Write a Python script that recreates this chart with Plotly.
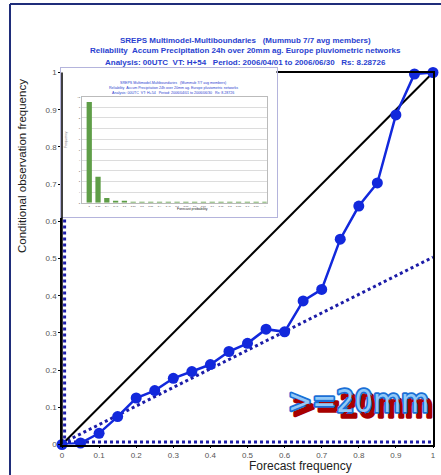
import plotly.graph_objects as go

W, H = 441, 475

# ---- data ----
forecast_prob = [0, 0.05, 0.1, 0.15, 0.2, 0.25, 0.3, 0.35, 0.4, 0.45, 0.5,
                 0.55, 0.6, 0.65, 0.7, 0.75, 0.8, 0.85, 0.9, 0.95, 1.0]
obs_freq = [0, 0.004, 0.03, 0.075, 0.125, 0.145, 0.178, 0.196, 0.215, 0.25, 0.272,
            0.31, 0.303, 0.386, 0.417, 0.552, 0.641, 0.703, 0.886, 0.996, 1.0]
climatology = 0.007
diag_x = [0, 1]
diag_y = [0, 1]
noskill_x = [0, 1]
noskill_y = [climatology / 2, (1 + climatology) / 2]
clim_h_x = [0, 1]
clim_h_y = [climatology, climatology]
clim_v_x = [climatology, climatology]
clim_v_y = [0, 1]
tick_vals = [0, 0.1, 0.2, 0.3, 0.4, 0.5, 0.6, 0.7, 0.8, 0.9, 1]
tick_text = ["0", "0.1", "0.2", "0.3", "0.4", "0.5", "0.6", "0.7", "0.8", "0.9", "1"]

# inset histogram (forecast probability frequency)
hist_cats = list(range(21))
hist_labels = ["0", "0.05", "0.1", "0.15", "0.2", "0.25", "0.3", "0.35", "0.4", "0.45", "0.5",
               "0.55", "0.6", "0.65", "0.7", "0.75", "0.8", "0.85", "0.9", "0.95", "1"]
hist_vals = [9.5, 2.45, 0.45, 0.17, 0.1, 0.06, 0.05, 0.04, 0.04, 0.03, 0.03,
             0.03, 0.02, 0.02, 0.02, 0.02, 0.02, 0.02, 0.02, 0.02, 0.02]

title_lines = [
    "SREPS Multimodel-Multiboundaries   (Mummub 7/7 avg members)",
    "Reliability  Accum Precipitation 24h over 20mm ag. Europe pluviometric networks",
    "Analysis: 00UTC  VT: H+54   Period: 2006/04/01 to 2006/06/30   Rs: 8.28726",
]
logo_text = ">=20mm"


def px(x):
    return x / W


def py(y):
    return 1 - y / H


fig = go.Figure()

DOT = "#1c1ca8"
fig.add_trace(go.Scatter(x=clim_h_x, y=clim_h_y, mode="lines",
                         line=dict(color=DOT, width=3, dash="dot"), cliponaxis=False))
fig.add_trace(go.Scatter(x=clim_v_x, y=clim_v_y, mode="lines",
                         line=dict(color=DOT, width=3, dash="dot"), cliponaxis=False))
fig.add_trace(go.Scatter(x=noskill_x, y=noskill_y, mode="lines",
                         line=dict(color=DOT, width=3, dash="dot"), cliponaxis=False))
fig.add_trace(go.Scatter(x=diag_x, y=diag_y, mode="lines",
                         line=dict(color="black", width=2), cliponaxis=False))
fig.add_trace(go.Scatter(x=forecast_prob, y=obs_freq, mode="lines+markers",
                         line=dict(color="#1228dc", width=2.5),
                         marker=dict(color="#1228dc", size=11), cliponaxis=False))

# inset frame (empty subplot covering the main plot)
fig.add_trace(go.Scatter(x=[], y=[], xaxis="x2", yaxis="y2"))
# inset histogram
fig.add_trace(go.Bar(x=hist_cats, y=hist_vals, xaxis="x3", yaxis="y3",
                     marker=dict(color="#5f9e48", line=dict(width=0)), width=0.6))

main_x = [px(62), px(433)]
main_y = [py(444.5), py(72.5)]

TICKFONT = dict(family="Liberation Sans, Arial, sans-serif", size=8, color="#555555")

fig.update_layout(
    width=W, height=H,
    margin=dict(l=0, r=0, t=0, b=0, autoexpand=False),
    paper_bgcolor="white", plot_bgcolor="white",
    showlegend=False,
    xaxis=dict(domain=main_x, range=[0, 1], tickvals=tick_vals, ticktext=tick_text,
               showgrid=False, zeroline=False, showline=True, linecolor="black",
               linewidth=1.5, mirror=True, ticks="outside", ticklen=2,
               tickcolor="black", tickfont=TICKFONT, anchor="y", automargin=False),
    yaxis=dict(domain=main_y, range=[0, 1], tickvals=tick_vals, ticktext=tick_text,
               showgrid=False, zeroline=False, showline=True, linecolor="black",
               linewidth=1.5, mirror=True, ticks="outside", ticklen=2,
               tickcolor="black", tickfont=TICKFONT, anchor="x", automargin=False),
    xaxis2=dict(domain=[px(61), px(276.5)], range=[0, 1], showgrid=False, zeroline=False,
                showticklabels=False, showline=True, linecolor="#b4b4dc", linewidth=1,
                mirror=True, anchor="y2", fixedrange=True, automargin=False),
    yaxis2=dict(domain=[py(217), py(67.7)], range=[0, 1], showgrid=False, zeroline=False,
                showticklabels=False, showline=True, linecolor="#b4b4dc", linewidth=1,
                mirror=True, anchor="x2", fixedrange=True, automargin=False),
    xaxis3=dict(domain=[px(81.7), px(266.7)], range=[-0.86, 20.2], tickvals=hist_cats,
                ticktext=hist_labels, tickfont=dict(size=2.5, color="#444"),
                showgrid=False, zeroline=False, showline=True, linecolor="#bbbbbb",
                linewidth=1, mirror=True, ticks="", anchor="y3", automargin=False),
    yaxis3=dict(domain=[py(202.7), py(96.7)], range=[0, 10], dtick=1,
                tickfont=dict(size=2.5, color="#444"), showgrid=True, gridcolor="#dcdcdc",
                gridwidth=0.6, zeroline=False, showline=True, linecolor="#bbbbbb",
                linewidth=1, mirror=True, ticks="", anchor="x3", automargin=False),
)

ann = []
TF = "Liberation Sans, Arial, sans-serif"


def note(text, x, y, size, color, angle=0, family=TF):
    return dict(text=text, x=px(x), y=py(y), xref="paper", yref="paper",
                showarrow=False, xanchor="center", yanchor="middle", textangle=angle,
                font=dict(family=family, size=size, color=color))


# main title
for i, t in enumerate(title_lines):
    ann.append(note("<b>" + t + "</b>", 246, 40 + 11 * i, 8, "#2a3fd0"))
# inset title
for i, t in enumerate(title_lines):
    ann.append(note(t, 173, 83 + 5 * i, 3.6, "#2a3fd0"))
ann.append(note("Frequency", 66, 140, 3.5, "#777777", angle=-90))
ann.append(note("Forecast probability", 192, 208.5, 3.5, "#222222"))
# axis titles
ann.append(note("Conditional observation frequency", 22, 166, 11.5, "#222222", angle=-90))
ann.append(note("Forecast frequency", 300, 466, 12, "#222222"))

# ">=20mm" logo text: light-blue fill, blue outline, red drop shadow
LOGO_F = "Liberation Sans Narrow, DejaVu Sans Condensed, Liberation Sans, Arial, sans-serif"
logo_style = ("stroke:#1a6fd6;stroke-width:3.5px;paint-order:stroke fill;"
              "stroke-linejoin:round;text-shadow:4px 5px 0 #a80000")
ann.append(note('<span style="' + logo_style + '">' + logo_text + '</span>',
                358, 401, 32, "#92c9f7", family=LOGO_F))

fig.update_layout(annotations=ann)

# main left axis line above inset, and outer blue frame
fig.add_shape(type="line", xref="x domain", yref="y domain", x0=0, x1=0, y0=0, y1=1,
              line=dict(color="black", width=1.5), layer="above")
fig.add_shape(type="line", xref="paper", yref="paper", x0=px(10), x1=px(10), y0=0, y1=py(4),
              line=dict(color="#1f2d7a", width=2), layer="above")
fig.add_shape(type="line", xref="paper", yref="paper", x0=px(10), x1=1, y0=py(4), y1=py(4),
              line=dict(color="#1f2d7a", width=2), layer="above")

fig.write_html("out.html", config={"displayModeBar": False},
               post_script="document.body.style.margin='0px';")
